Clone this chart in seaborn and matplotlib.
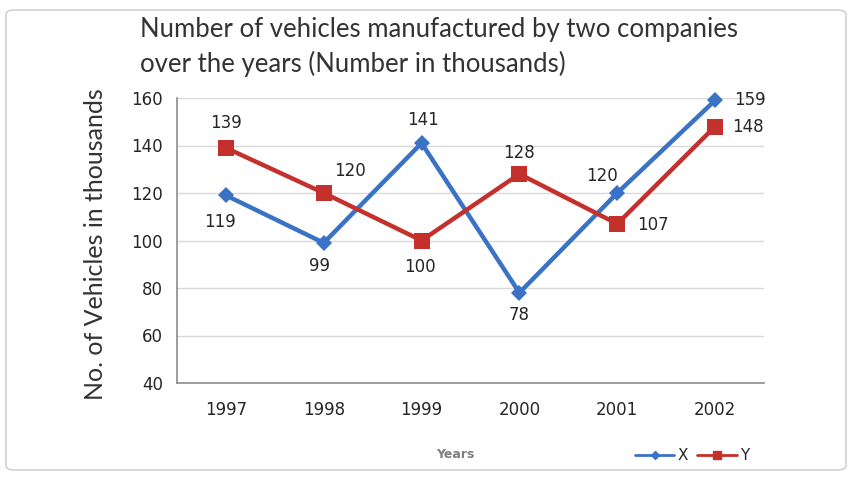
import matplotlib
matplotlib.use("Agg")
import matplotlib.pyplot as plt
import seaborn as sns
import pandas as pd
from matplotlib.patches import FancyBboxPatch
from matplotlib.lines import Line2D

years = ["1997", "1998", "1999", "2000", "2001", "2002"]
x_values = [119, 99, 141, 78, 120, 159]
y_values = [139, 120, 100, 128, 107, 148]
series_names = ["X", "Y"]
y_ticks = [40, 60, 80, 100, 120, 140, 160]

# label offsets (points) for each data label
x_offsets = [(-4, -19), (-3, -17), (1, 17), (0, -16), (-11, 12), (25, 0)]
y_offsets = [(0, 18), (19, 16), (-1, -19), (0, 15), (26, -1), (24, 0)]

sns.set_theme(style="white")
plt.rcParams["font.family"] = ["DejaVu Sans"]

df = pd.DataFrame({
    "pos": list(range(len(years))) * 2,
    "value": x_values + y_values,
    "series": [series_names[0]] * len(years) + [series_names[1]] * len(years),
})

blue = "#3A72C6"
red = "#C4312C"
txt = "#262626"

fig = plt.figure(figsize=(8.53, 4.78), dpi=100)
ax = fig.add_axes([177 / 853, 1 - 383 / 478, (764 - 177) / 853, (383 - 98) / 478])

sns.lineplot(data=df, x="pos", y="value", hue="series", style="series",
             palette={"X": blue, "Y": red}, markers={"X": "D", "Y": "s"},
             dashes=False, linewidth=3.2, markersize=9, markeredgewidth=0,
             legend=False, ax=ax)
for line, ms in zip(ax.lines, [8, 11]):
    line.set_markersize(ms)
    line.set_clip_on(False)
    line.set_zorder(3)

ax.set_xlim(-0.5, len(years) - 0.5)
ax.set_ylim(40, 160)
ax.set_yticks(y_ticks)
ax.set_yticklabels([str(t) for t in y_ticks], fontsize=12, color=txt)
ax.set_xticks(range(len(years)))
ax.set_xticklabels(years, fontsize=12, color=txt)
ax.yaxis.grid(True, color="#d9d9d9", linewidth=1)
ax.set_axisbelow(True)
for s in ["top", "right"]:
    ax.spines[s].set_visible(False)
for s in ["left", "bottom"]:
    ax.spines[s].set_color("#8c8c8c")
    ax.spines[s].set_linewidth(1.2)
ax.tick_params(axis="y", length=5, color="#8c8c8c", direction="out", pad=5)
ax.tick_params(axis="x", length=8, color="#8c8c8c", direction="inout", pad=9)
ax.set_xlabel("")
ax.set_ylabel("")

for i, v in enumerate(x_values):
    ax.annotate(str(v), (i, v), xytext=x_offsets[i], textcoords="offset points",
                ha="center", va="center", fontsize=12, color=txt)
for i, v in enumerate(y_values):
    ax.annotate(str(v), (i, v), xytext=y_offsets[i], textcoords="offset points",
                ha="center", va="center", fontsize=12, color=txt)

fig.text(140 / 853, 1 - 30 / 478, "Number of vehicles manufactured by two companies",
         fontsize=18.5, family=["Lato", "DejaVu Sans"], color="#333333", va="center", ha="left")
fig.text(140 / 853, 1 - 64 / 478, "over the years (Number in thousands)",
         fontsize=18.5, family=["Lato", "DejaVu Sans"], color="#333333", va="center", ha="left")
fig.text(96 / 853, 1 - 244 / 478, "No. of Vehicles in thousands", rotation=90,
         fontsize=18, family=["Lato", "DejaVu Sans"], color="#333333", va="center", ha="center")
fig.text(455 / 853, 1 - 455 / 478, "Years", fontsize=9, fontweight="bold",
         color="#7f7f7f", va="center", ha="center")

handles = [Line2D([], [], color=blue, marker="D", markersize=4, linewidth=2),
           Line2D([], [], color=red, marker="s", markersize=6, linewidth=2)]
fig.legend(handles, series_names, loc="center", bbox_to_anchor=(692 / 853, 1 - 456 / 478),
           ncol=2, frameon=False, fontsize=11, handlelength=2.6, columnspacing=0.6,
           handletextpad=0.2)

border = FancyBboxPatch((6 / 853, 8 / 478), 840 / 853, 460 / 478,
                        boxstyle="round,pad=0,rounding_size=0.01",
                        transform=fig.transFigure, fill=False,
                        edgecolor="#c8c8c8", linewidth=1)
fig.patches.append(border)

fig.savefig("out.png", dpi=100)
